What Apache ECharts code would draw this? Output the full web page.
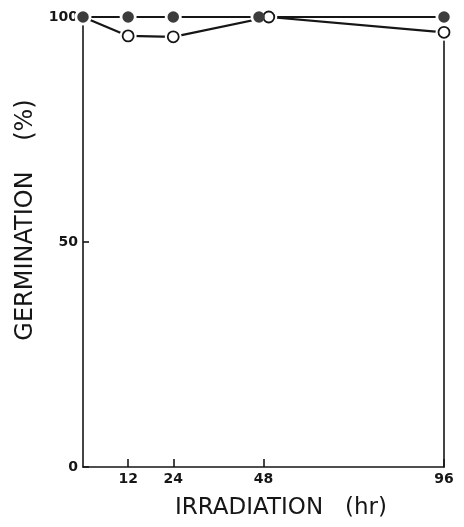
<!DOCTYPE html>
<html><head><meta charset="utf-8">
<script src="https://cdn.jsdelivr.net/npm/echarts@6/dist/echarts.min.js"></script>
<style>html,body{margin:0;padding:0;background:#fff}#c{width:464px;height:527px}</style>
</head><body><div id="c"></div>
<script>
const hoursFilled = [0, 12, 24, 46.8, 96];
const germFilled = [100, 100, 100, 100, 100];
const hoursOpen = [0, 12, 24, 49.4, 96];
const germOpen = [100, 95.8, 95.6, 100, 96.6];
const xTicks = [12, 24, 48, 96];
const yTicks = [0, 50, 100];

const nameFont = '"DejaVu Sans", sans-serif';
const tickFont = '"DejaVu Sans", sans-serif';
const ink = '#161616';
const filledPts = hoursFilled.map((h, i) => [h, germFilled[i]]);
const openPts = hoursOpen.map((h, i) => [h, germOpen[i]]);
const openMarkers = openPts.slice(1);

const chart = echarts.init(document.getElementById('c'));
chart.setOption({
  animation: false,
  backgroundColor: '#fff',
  grid: {left: 83, top: 17, right: 20, bottom: 60, containLabel: false, outerBoundsMode: 'none'},
  xAxis: {
    type: 'value', min: 0, max: 96,
    axisLine: {lineStyle: {color: ink, width: 1.6}},
    axisTick: {show: true, inside: true, length: 8, lineStyle: {color: ink, width: 1.6}, customValues: xTicks},
    axisLabel: {customValues: xTicks, color: ink, fontFamily: tickFont, fontWeight: 'bold', fontSize: 14, margin: 5},
    splitLine: {show: false},
    name: 'IRRADIATION   (hr)', nameLocation: 'middle', nameGap: 30,
    nameTextStyle: {color: ink, fontFamily: nameFont, fontSize: 23, padding: [0, 0, 0, 35]}
  },
  yAxis: [{
    type: 'value', min: 0, max: 100,
    axisLine: {show: true, lineStyle: {color: ink, width: 1.6}},
    axisTick: {show: true, inside: true, length: 6, lineStyle: {color: ink, width: 1.6}, customValues: yTicks},
    axisLabel: {customValues: yTicks, color: ink, fontFamily: tickFont, fontWeight: 'bold', fontSize: 14, margin: 5},
    splitLine: {show: false},
    name: 'GERMINATION    (%)', nameLocation: 'middle', nameGap: 26,
    nameTextStyle: {color: ink, fontFamily: nameFont, fontSize: 24, padding: [0, 0, 0, 44]}
  }, {
    type: 'value', min: 0, max: 100, position: 'right',
    axisLine: {show: true, lineStyle: {color: ink, width: 1.6}},
    axisTick: {show: false}, axisLabel: {show: false}, splitLine: {show: false}
  }],
  series: [{
    type: 'line', data: openPts, symbol: 'none',
    lineStyle: {color: ink, width: 2.2}, z: 2
  }, {
    type: 'line', data: filledPts, symbol: 'none',
    lineStyle: {color: ink, width: 2.2}, z: 2
  }, {
    type: 'scatter', data: filledPts.concat(openMarkers), symbolSize: 17,
    itemStyle: {color: '#fff', opacity: 1}, z: 3, silent: true
  }, {
    type: 'scatter', data: openMarkers, symbolSize: 11,
    itemStyle: {color: '#fff', borderColor: ink, borderWidth: 1.8, opacity: 1}, z: 4
  }, {
    type: 'scatter', data: filledPts, symbolSize: 11.5,
    itemStyle: {color: '#3c3c3c', opacity: 1}, z: 5
  }]
});
</script></body></html>
